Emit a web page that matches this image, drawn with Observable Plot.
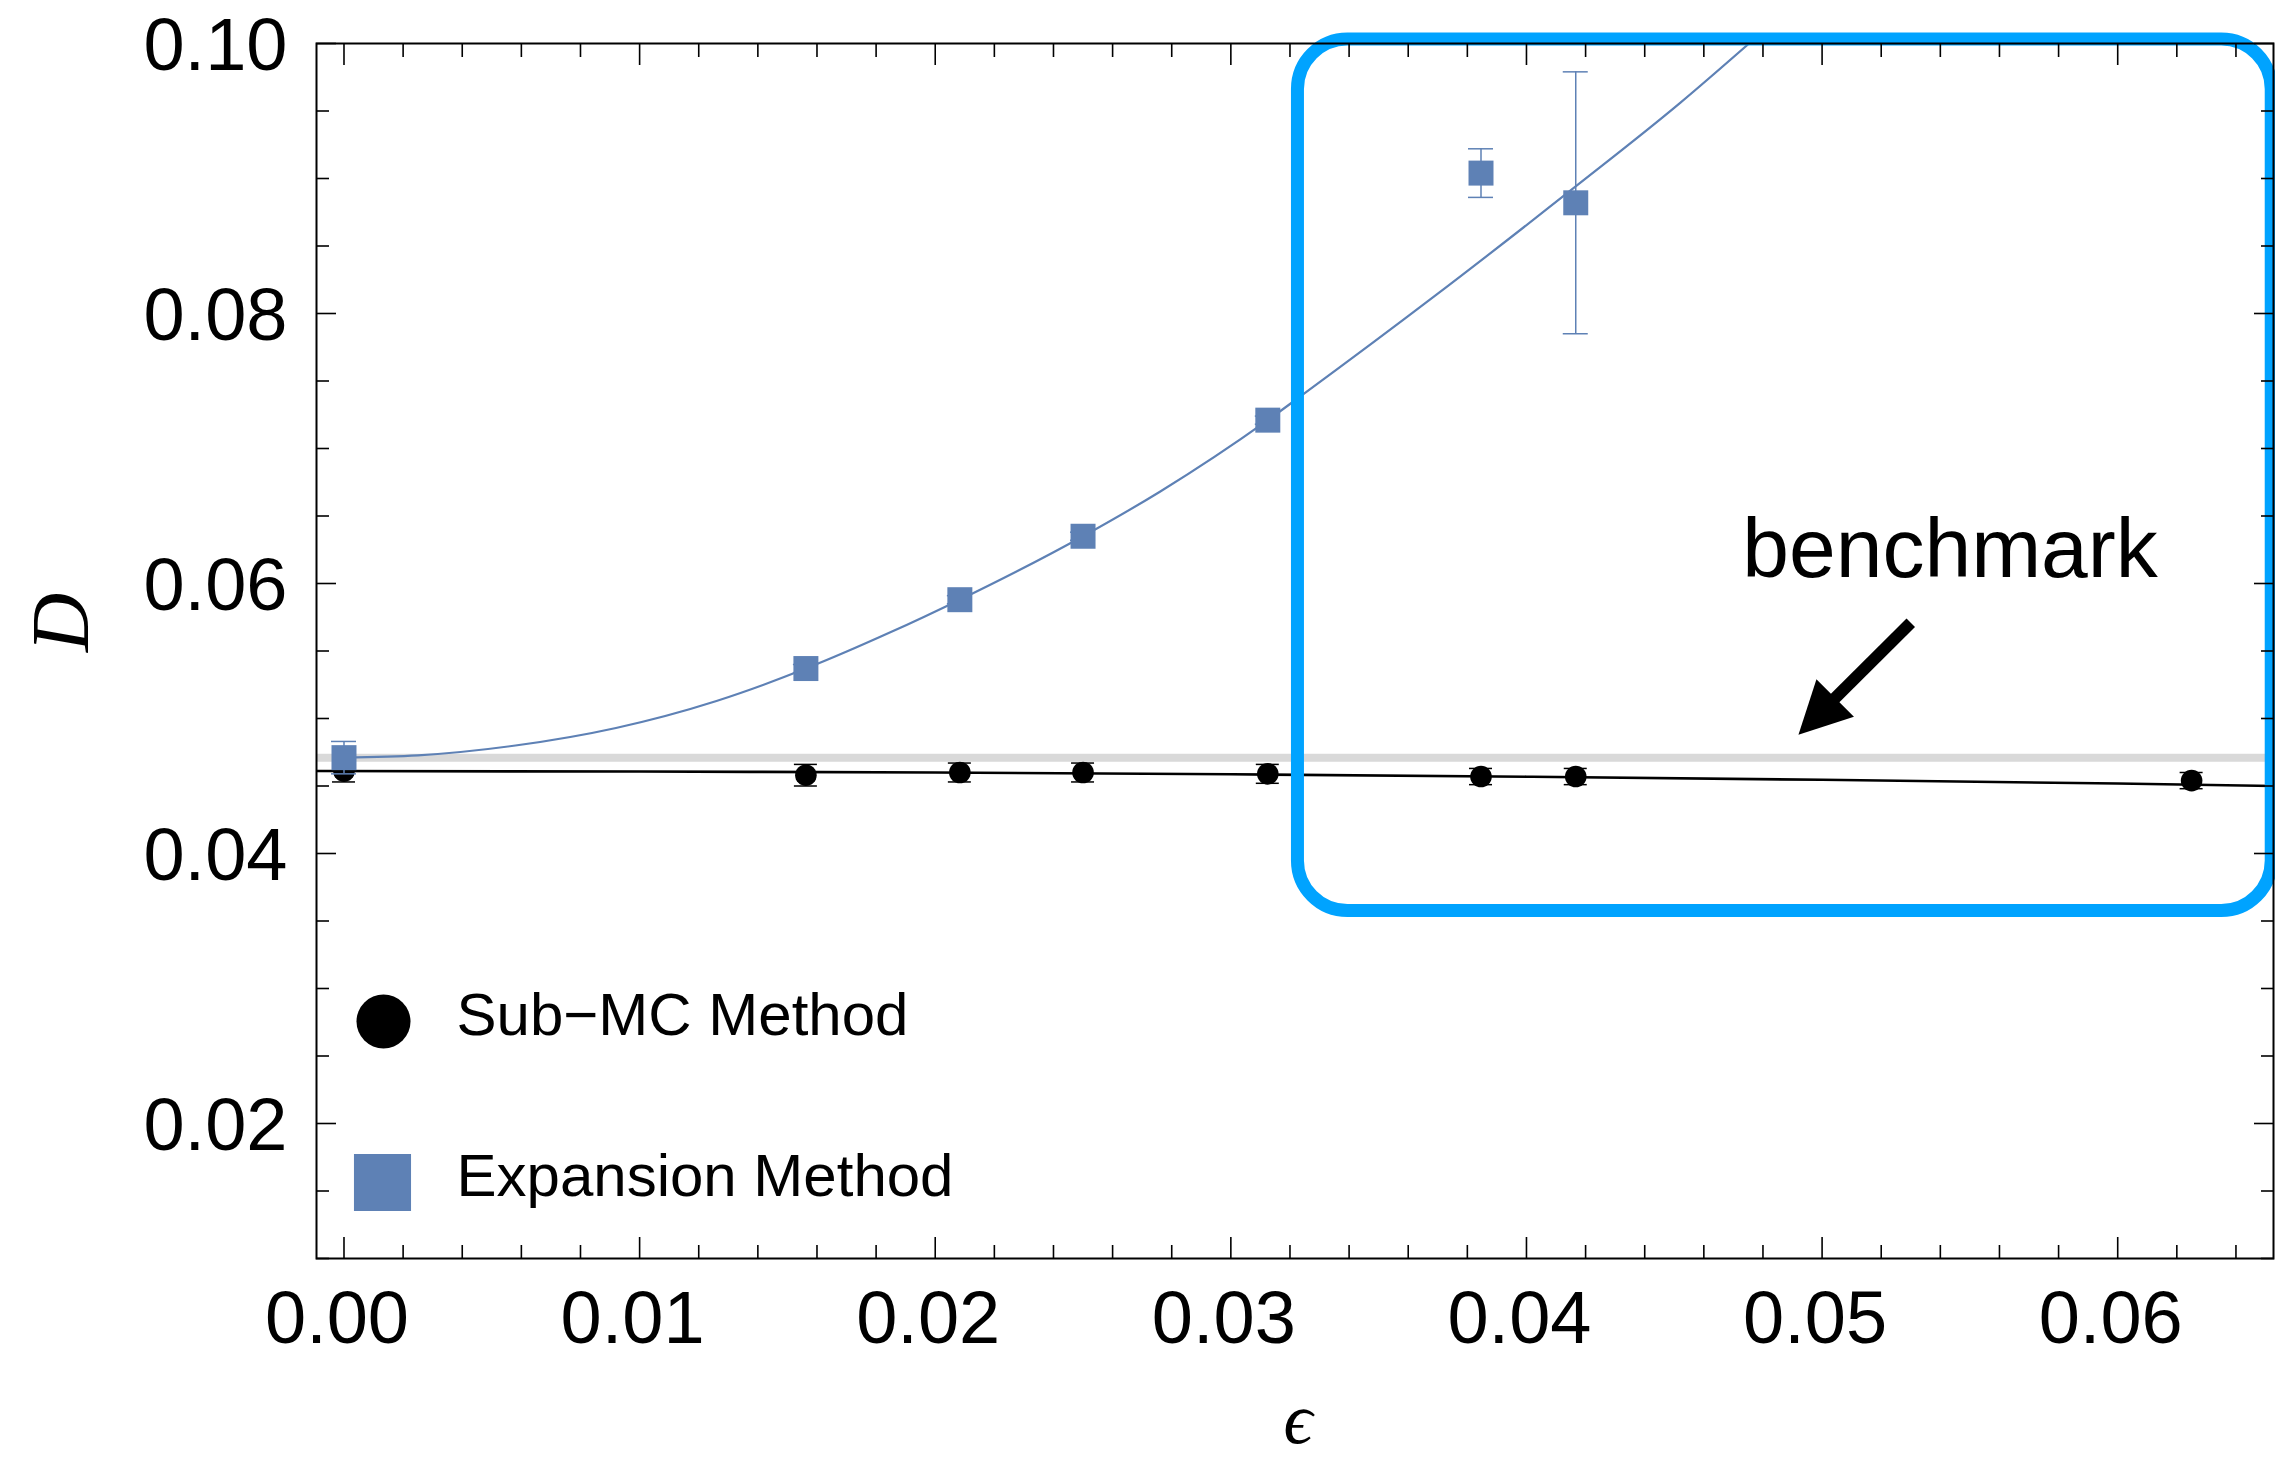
<!DOCTYPE html>
<html>
<head>
<meta charset="utf-8">
<script src="https://cdn.jsdelivr.net/npm/d3@7"></script>
<script src="https://cdn.jsdelivr.net/npm/@observablehq/plot@0.6"></script>
<style>
  html, body { margin: 0; padding: 0; background: #fff; }
  #chart svg { display: block; }
</style>
</head>
<body>
<div id="chart"></div>
<script>
// ε values at which both methods were run (0, 1/64, 1/48, 1/40, 1/32, 1/26, 1/24, 1/16)
const eps = [0, 0.015625, 0.020833, 0.025, 0.03125, 0.038462, 0.041667, 0.0625];

// Sub-MC method estimates of D and their errors (all eight ε values)
const subMC    = [0.0461, 0.0458, 0.0460, 0.0460, 0.0459, 0.0457, 0.0457, 0.0454];
const subMCErr = [0.0008, 0.0008, 0.0007, 0.0007, 0.0007, 0.0006, 0.0006, 0.0006];

// Expansion method estimates of D and their errors (first seven ε values)
const expansion    = [0.0471, 0.0537, 0.0588, 0.0635, 0.0721, 0.0904, 0.0882];
const expansionErr = [0.0012, 0.0003, 0.0003, 0.0003, 0.0003, 0.0018, 0.0097];

// fitted curves, sampled along ε
const subMCFitEps = [-0.001, 0.01, 0.02, 0.03, 0.04, 0.05, 0.06, 0.066];
const subMCFit    = [0.04611, 0.04607, 0.04600, 0.04587, 0.04569, 0.04546, 0.04518, 0.04498];
const expansionFitEps = [0, 0.0025, 0.0058, 0.0092, 0.0126, 0.015625, 0.0185, 0.020833, 0.025, 0.0276, 0.03125, 0.0325, 0.0369, 0.0416, 0.0452, 0.04753];
const expansionFit    = [0.0471, 0.04727, 0.0480, 0.0493, 0.0513, 0.0537, 0.0564, 0.0588, 0.0635, 0.0668, 0.0721, 0.0741, 0.0813, 0.0893, 0.0956, 0.1000];

// benchmark value of D
const benchmark = 0.0471;

// legend entries
const legendLabels = ["Sub\u2212MC Method", "Expansion Method"];

// ticks
const xMajor = [0, 0.01, 0.02, 0.03, 0.04, 0.05, 0.06];
const xMinor = [0.002, 0.004, 0.006, 0.008, 0.012, 0.014, 0.016, 0.018, 0.022, 0.024, 0.026, 0.028,
                0.032, 0.034, 0.036, 0.038, 0.042, 0.044, 0.046, 0.048, 0.052, 0.054, 0.056, 0.058,
                0.062, 0.064];
const yMajor = [0.02, 0.04, 0.06, 0.08, 0.10];
const yMinor = [0.01, 0.015, 0.025, 0.03, 0.035, 0.045, 0.05, 0.055, 0.065, 0.07, 0.075, 0.085, 0.09, 0.095];

// highlighted region of large ε and the benchmark annotation
const highlight = {eps1: 0.03227, eps2: 0.06521, D1: 0.03574, D2: 0.1003};
const arrowTail = {eps: 0.0530, D: 0.0571};
const arrowTip  = {eps: 0.0492, D: 0.0488};
const benchmarkLabel = {eps: 0.0473, D: 0.0605, text: "benchmark"};

const blue = "#5e81b5";
const cyan = "#00a3ff";
const grey = "#d9d9d9";
const sans = '"Liberation Sans", Arial, Helvetica, sans-serif';
const serif = '"Liberation Serif", "DejaVu Serif", "Times New Roman", serif';

const subRows = eps.map((e, i) => ({eps: e, D: subMC[i], err: subMCErr[i]}));
const expRows = expansion.map((v, i) => ({eps: eps[i], D: v, err: expansionErr[i]}));
const subFitRows = subMCFitEps.map((e, i) => ({eps: e, D: subMCFit[i]}));
const expFitRows = expansionFitEps.map((e, i) => ({eps: e, D: expansionFit[i]}));

// shaft runs from the tail most of the way to the tip; the head covers the rest
const shaftFrac = 0.72;
const shaft = [{
  x1: arrowTail.eps, y1: arrowTail.D,
  x2: arrowTail.eps + shaftFrac * (arrowTip.eps - arrowTail.eps),
  y2: arrowTail.D + shaftFrac * (arrowTip.D - arrowTail.D)
}];
// filled arrowhead with its tip at the origin, pointing up before rotation
const arrowHead = {draw(ctx) { ctx.moveTo(0, 0); ctx.lineTo(26.5, 52); ctx.lineTo(-26.5, 52); ctx.closePath(); }};

const fmt = d3.format(".2f");
const tickStyle = {stroke: "black", strokeWidth: 1.6, tickFormat: () => "", label: null};

const chart = Plot.plot({
  width: 2275,
  height: 1458,
  marginLeft: 316,
  marginRight: 2,
  marginTop: 43,
  marginBottom: 200,
  x: {domain: [-0.00093, 0.06527]},
  y: {domain: [0.01, 0.10]},
  style: {fontFamily: sans, background: "white", overflow: "visible"},
  marks: [
    // benchmark band
    Plot.ruleY([benchmark], {stroke: grey, strokeWidth: 8}),

    // fitted curves
    Plot.line(subFitRows, {x: "eps", y: "D", stroke: "black", strokeWidth: 2.6, curve: "monotone-x", clip: true}),
    Plot.line(expFitRows, {x: "eps", y: "D", stroke: blue, strokeWidth: 2.2, curve: "monotone-x", clip: true}),

    // Sub-MC error bars and points
    Plot.ruleX(subRows, {x: "eps", y1: d => d.D - d.err, y2: d => d.D + d.err, stroke: "black", strokeWidth: 1.5}),
    Plot.ruleY(subRows, {x1: "eps", x2: "eps", y: d => d.D + d.err, insetLeft: -11.5, insetRight: -11.5, stroke: "black", strokeWidth: 1.5}),
    Plot.ruleY(subRows, {x1: "eps", x2: "eps", y: d => d.D - d.err, insetLeft: -11.5, insetRight: -11.5, stroke: "black", strokeWidth: 1.5}),
    Plot.dot(subRows, {x: "eps", y: "D", r: 10.8, fill: "black"}),

    // Expansion error bars and points
    Plot.ruleX(expRows, {x: "eps", y1: d => d.D - d.err, y2: d => d.D + d.err, stroke: blue, strokeWidth: 1.5}),
    Plot.ruleY(expRows, {x1: "eps", x2: "eps", y: d => d.D + d.err, insetLeft: -12.5, insetRight: -12.5, stroke: blue, strokeWidth: 1.5}),
    Plot.ruleY(expRows, {x1: "eps", x2: "eps", y: d => d.D - d.err, insetLeft: -12.5, insetRight: -12.5, stroke: blue, strokeWidth: 1.5}),
    Plot.dot(expRows, {x: "eps", y: "D", symbol: "square", r: 14.1, fill: blue}),

    // highlighted region
    Plot.rect([highlight], {x1: "eps1", x2: "eps2", y1: "D1", y2: "D2", rx: 50, fill: "none", stroke: cyan, strokeWidth: 13}),

    // benchmark annotation
    Plot.link(shaft, {x1: "x1", y1: "y1", x2: "x2", y2: "y2", stroke: "black", strokeWidth: 12, strokeLinecap: "butt"}),
    Plot.dot([arrowTip], {x: "eps", y: "D", symbol: arrowHead, rotate: 225, fill: "black", stroke: "none"}),
    Plot.text([benchmarkLabel], {x: "eps", y: "D", text: "text", textAnchor: "start", lineAnchor: "bottom", fontSize: 84, fill: "black"}),

    // legend
    Plot.dot([legendLabels[0]], {frameAnchor: "bottom-left", dx: 67, dy: -237, r: 27, fill: "black"}),
    Plot.text([legendLabels[0]], {frameAnchor: "bottom-left", text: d => d, dx: 140, dy: -224, textAnchor: "start", lineAnchor: "bottom", fontSize: 60, fill: "black"}),
    Plot.dot([legendLabels[1]], {frameAnchor: "bottom-left", dx: 66, dy: -76, symbol: "square", r: 32.2, fill: blue}),
    Plot.text([legendLabels[1]], {frameAnchor: "bottom-left", text: d => d, dx: 140, dy: -63, textAnchor: "start", lineAnchor: "bottom", fontSize: 60, fill: "black"}),

    // frame and inward ticks on all four sides
    Plot.frame({stroke: "black", strokeWidth: 2}),
    Plot.axisX(xMajor, {anchor: "bottom", tickSize: -21, ...tickStyle}),
    Plot.axisX(xMinor, {anchor: "bottom", tickSize: -13, ...tickStyle}),
    Plot.axisX(xMajor, {anchor: "top", tickSize: -21, ...tickStyle}),
    Plot.axisX(xMinor, {anchor: "top", tickSize: -13, ...tickStyle}),
    Plot.axisY(yMajor, {anchor: "left", tickSize: -20, ...tickStyle}),
    Plot.axisY(yMinor, {anchor: "left", tickSize: -13, ...tickStyle}),
    Plot.axisY(yMajor, {anchor: "right", tickSize: -20, ...tickStyle}),
    Plot.axisY(yMinor, {anchor: "right", tickSize: -13, ...tickStyle}),

    // tick labels
    Plot.axisX(xMajor, {anchor: "bottom", tickSize: 0, tickPadding: 32, tickFormat: fmt, fontSize: 74, dx: -7, label: null, fill: "black"}),
    Plot.axisY(yMajor, {anchor: "left", tickSize: 0, tickPadding: 29, tickFormat: fmt, fontSize: 74, dy: 3, label: null, fill: "black"}),

    // axis titles
    Plot.text(["\u03f5"], {frameAnchor: "bottom", text: d => d, dx: 3, dy: 184, lineAnchor: "bottom", fontSize: 72, fontStyle: "italic", fontFamily: serif, fill: "black"}),
    Plot.text(["D"], {frameAnchor: "left", text: d => d, rotate: -90, dx: -229, dy: 1, lineAnchor: "bottom", fontSize: 82, fontStyle: "italic", fontFamily: serif, fill: "black"})
  ]
});

document.getElementById("chart").appendChild(chart);
</script>
</body>
</html>
